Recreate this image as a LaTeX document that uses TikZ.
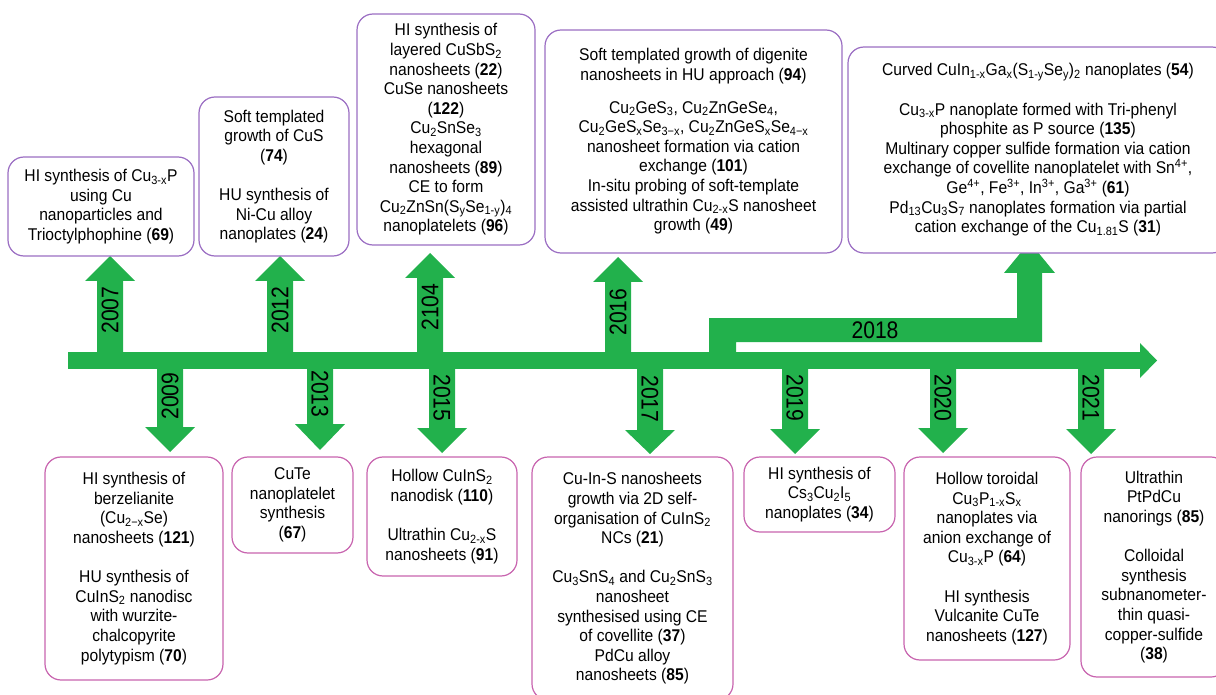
\documentclass[tikz,border=0pt]{standalone}
\usepackage{fontspec}
\setmainfont{Liberation Sans}[FakeStretch=0.92]
\newfontfamily\yearfont{Liberation Sans}[FakeStretch=0.88]
\newcommand{\sbs}[1]{\textsubscript{#1}}
\newcommand{\sps}[1]{\textsuperscript{#1}}
\definecolor{tlgreen}{RGB}{34,177,76}
\definecolor{topc}{RGB}{155,110,195}
\definecolor{botc}{RGB}{200,100,175}
\newcommand{\tlup}[3]{%
  \fill[arr] ({#1-13},352) -- ({#1-13},#3) -- ({#1-25},#3) -- (#1,#2) -- ({#1+25},#3) -- ({#1+13},#3) -- ({#1+13},352) -- cycle;}
\newcommand{\tldown}[3]{%
  \fill[arr] ({#1-13},369) -- ({#1-13},#2) -- ({#1-25},#2) -- (#1,#3) -- ({#1+25},#2) -- ({#1+13},#2) -- ({#1+13},369) -- cycle;}
\tikzset{
  arr/.style={fill=tlgreen, draw=none},
  boxbase/.style={line width=1.2pt, rounded corners=16pt, fill=white, align=center, inner sep=0pt,
    font=\fontsize{17}{19.6}\selectfont},
  topbox/.style={boxbase, draw=topc},
  botbox/.style={boxbase, draw=botc},
  yr/.style={font=\yearfont\fontsize{24}{24}\selectfont, inner sep=0pt},
}
\begin{document}
\begin{tikzpicture}[x=1pt,y=-1pt]
\useasboundingbox (0,0) rectangle (1216,695);
% main timeline
\fill[arr] (68,352) rectangle (1140,369);
\fill[arr] (1140,343) -- (1157,360.5) -- (1140,378) -- cycle;
% 2018 branch
\fill[arr] (709,352) -- (709,318) -- (1017,318) -- (1017,273) -- (1004,273) -- (1029.5,242)
  -- (1055,273) -- (1042,273) -- (1042,342) -- (736,342) -- (736,352) -- cycle;
% up arrows
\tlup{110}{256}{281}
\tlup{280}{256}{281}
\tlup{430}{253}{278}
\tlup{618}{257}{282}
% down arrows
\tldown{170}{427}{452}
\tldown{320}{424}{450}
\tldown{442}{428}{453}
\tldown{650}{430}{454}
\tldown{795}{429}{454}
\tldown{943}{428}{453}
\tldown{1091}{429}{454}
% year labels
\node[yr, rotate=90] (y2007) at (110,310) {2007};
\node[yr, rotate=90] (y2012) at (280,310) {2012};
\node[yr, rotate=90] (y2104) at (430,307) {2104};
\node[yr, rotate=90] (y2016) at (618,312) {2016};
\node[yr, rotate=90] (y2009) at (170,396) {2009};
\node[yr, rotate=-90] (y2013) at (320,394) {2013};
\node[yr, rotate=-90] (y2015) at (442,398) {2015};
\node[yr, rotate=-90] (y2017) at (650,399) {2017};
\node[yr, rotate=-90] (y2019) at (795,398) {2019};
\node[yr, rotate=-90] (y2020) at (943,398) {2020};
\node[yr, rotate=-90] (y2021) at (1091,398) {2021};
\node[yr] (y2018) at (875,330) {2018};
% top boxes
\node[topbox, minimum width=186pt, minimum height=99pt] (t2007) at (101,206.5)
  {HI synthesis of Cu\sbs{3-x}P\\ using Cu\\ nanoparticles and\\ Trioctylphophine (\textbf{69})};
\node[topbox, minimum width=150pt, minimum height=159pt] (t2012) at (274,176.5)
  {Soft templated\\ growth of CuS\\ (\textbf{74})\\[19.6pt] HU synthesis of\\ Ni-Cu alloy\\ nanoplates (\textbf{24})};
\node[topbox, minimum width=178pt, minimum height=231pt] (t2104) at (446,129.5)
  {HI synthesis of\\ layered CuSbS\sbs{2}\\ nanosheets (\textbf{22})\\ CuSe nanosheets\\ (\textbf{122})\\ Cu\sbs{2}SnSe\sbs{3}\\ hexagonal\\ nanosheets (\textbf{89})\\ CE to form\\ Cu\sbs{2}ZnSn(S\sbs{y}Se\sbs{1-y})\sbs{4}\\ nanoplatelets (\textbf{96})};
\node[topbox, minimum width=297pt, minimum height=223pt] (t2016) at (693.5,141.5)
  {Soft templated growth of digenite\\ nanosheets in HU approach (\textbf{94})\\[13pt] Cu\sbs{2}GeS\sbs{3}, Cu\sbs{2}ZnGeSe\sbs{4},\\ Cu\sbs{2}GeS\sbs{x}Se\sbs{3−x}, Cu\sbs{2}ZnGeS\sbs{x}Se\sbs{4−x}\\ nanosheet formation via cation\\ exchange (\textbf{101})\\ In-situ probing of soft-template\\ assisted ultrathin Cu\sbs{2-x}S nanosheet\\ growth (\textbf{49})};
\node[topbox, minimum width=380pt, minimum height=206pt] (t2018) at (1038,150)
  {Curved CuIn\sbs{1-x}Ga\sbs{x}(S\sbs{1-y}Se\sbs{y})\sbs{2} nanoplates (\textbf{54})\\[19.6pt] Cu\sbs{3-x}P nanoplate formed with Tri-phenyl\\ phosphite as P source (\textbf{135})\\ Multinary copper sulfide formation via cation\\ exchange of covellite nanoplatelet with Sn\sps{4+},\\ Ge\sps{4+}, Fe\sps{3+}, In\sps{3+}, Ga\sps{3+} (\textbf{61})\\ Pd\sbs{13}Cu\sbs{3}S\sbs{7} nanoplates formation via partial\\ cation exchange of the Cu\sbs{1.81}S (\textbf{31})};
% bottom boxes
\node[botbox, minimum width=178pt, minimum height=223pt] (b2009) at (134,568.5)
  {HI synthesis of\\ berzelianite\\ (Cu\sbs{2−x}Se)\\ nanosheets (\textbf{121})\\[19.6pt] HU synthesis of\\ CuInS\sbs{2} nanodisc\\ with wurzite-\\ chalcopyrite\\ polytypism (\textbf{70})};
\node[botbox, minimum width=121pt, minimum height=96pt] (b2013) at (292.5,505)
  {CuTe\\ nanoplatelet\\ synthesis\\ (\textbf{67})};
\node[botbox, minimum width=150pt, minimum height=119pt] (b2015) at (442,516.5)
  {Hollow CuInS\sbs{2}\\ nanodisk (\textbf{110})\\[19.6pt] Ultrathin Cu\sbs{2-x}S\\ nanosheets (\textbf{91})};
\node[botbox, minimum width=201pt, minimum height=243pt] (b2017) at (632.5,578.5)
  {Cu-In-S nanosheets\\ growth via 2D self-\\ organisation of CuInS\sbs{2}\\ NCs (\textbf{21})\\[19.6pt] Cu\sbs{3}SnS\sbs{4} and Cu\sbs{2}SnS\sbs{3}\\ nanosheet\\ synthesised using CE\\ of covellite (\textbf{37})\\ PdCu alloy\\ nanosheets (\textbf{85})};
\node[botbox, minimum width=151pt, minimum height=75pt] (b2019) at (819.5,494.5)
  {HI synthesis of\\ Cs\sbs{3}Cu\sbs{2}I\sbs{5}\\ nanoplates (\textbf{34})};
\node[botbox, minimum width=166pt, minimum height=203pt] (b2020) at (987,558.5)
  {Hollow toroidal\\ Cu\sbs{3}P\sbs{1-x}S\sbs{x}\\ nanoplates via\\ anion exchange of\\ Cu\sbs{3-x}P (\textbf{64})\\[19.6pt] HI synthesis\\ Vulcanite CuTe\\ nanosheets (\textbf{127})};
\node[botbox, minimum width=146pt, minimum height=220pt] (b2021) at (1154,567)
  {Ultrathin\\ PtPdCu\\ nanorings (\textbf{85})\\[19.6pt] Colloidal\\ synthesis\\ subnanometer-\\ thin quasi-\\ copper-sulfide\\ (\textbf{38})};
\end{tikzpicture}
\end{document}
